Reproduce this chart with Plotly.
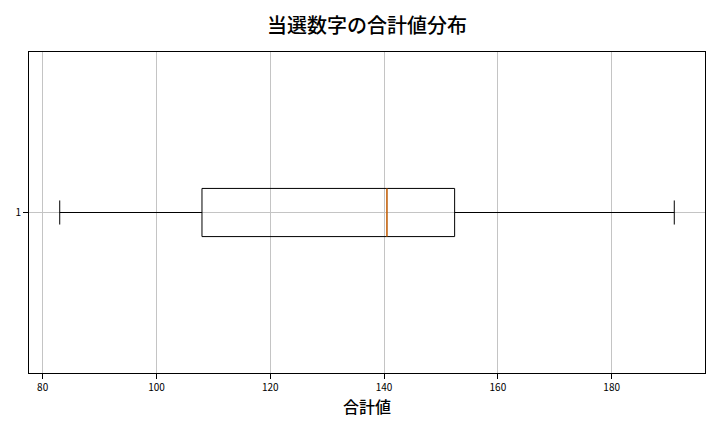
import plotly.graph_objects as go

categories = [1]
lower_whisker = [83]
q1_vals = [108]
median_vals = [140.5]
q3_vals = [152.4]
upper_whisker = [191]
x_ticks = [80, 100, 120, 140, 160, 180]

BOX_W = 0.15
FONT = "Noto Sans CJK JP"
W, H = 712, 424  # page body has an 8px margin in the 720x432 window
GRID = "#c4c4c4"

fig = go.Figure()
fig.add_trace(go.Box(
    y=categories, q1=q1_vals, median=median_vals, q3=q3_vals,
    lowerfence=lower_whisker, upperfence=upper_whisker,
    orientation="h", width=BOX_W, whiskerwidth=0.5,
    fillcolor="rgba(0,0,0,0)", line=dict(color="black", width=1),
    boxpoints=False, showlegend=False, hoverinfo="skip",
))
for c, m in zip(categories, median_vals):
    fig.add_trace(go.Scatter(
        x=[m, m], y=[c - BOX_W / 2, c + BOX_W / 2], mode="lines",
        line=dict(color="#ff7f0e", width=1.2), showlegend=False, hoverinfo="skip",
    ))

lo = min(lower_whisker)
hi = max(upper_whisker)
pad = (hi - lo) * 0.05

fig.update_layout(
    width=W, height=H,
    margin=dict(l=21, r=15, t=44, b=59),
    paper_bgcolor="white", plot_bgcolor="white",
    font=dict(family=FONT, color="black"),
    title=dict(text="当選数字の合計値分布", x=(21 + 697) / 2 / W, xanchor="center",
               y=1 - 17.5 / H, yanchor="middle",
               font=dict(size=20, family=FONT, weight=500)),
    xaxis=dict(
        range=[lo - pad, hi + pad], tickvals=x_ticks, automargin=False,
        showgrid=True, gridcolor=GRID, gridwidth=0.8,
        showline=True, linecolor="black", linewidth=1, mirror=True,
        ticks="outside", ticklen=5, tickcolor="black", tickfont=dict(size=10),
        zeroline=False,
        title=dict(text="合計値", font=dict(size=16, weight=500), standoff=8),
    ),
    yaxis=dict(
        range=[0.5, 1.5], tickvals=categories, ticktext=[str(c) for c in categories],
        automargin=False,
        showgrid=True, gridcolor=GRID, gridwidth=0.8,
        showline=True, linecolor="black", linewidth=1, mirror=True,
        ticks="outside", ticklen=5, tickcolor="black", tickfont=dict(size=10),
        zeroline=False,
    ),
)
fig.write_html("out.html")
